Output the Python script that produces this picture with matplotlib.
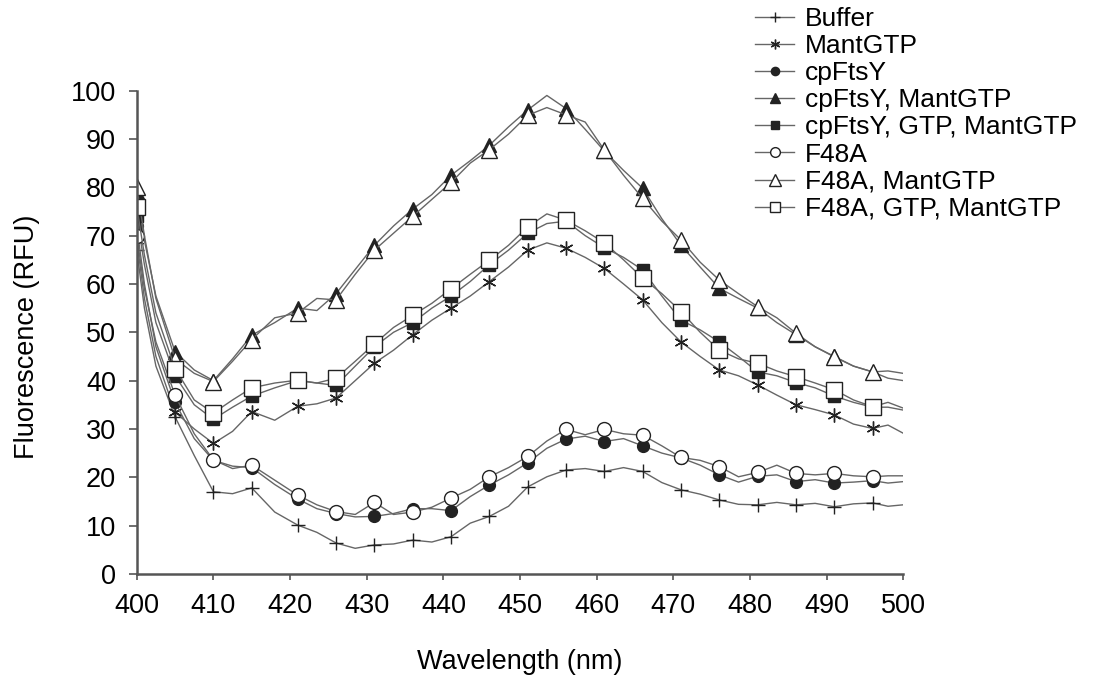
import numpy as np
import matplotlib
matplotlib.use('Agg')
import matplotlib.pyplot as plt

plt.rcParams['font.family'] = ['Liberation Sans', 'DejaVu Sans']

# wavelength grid (nm) and indices that carry a marker
wavelength = [400, 401, 402.5, 405, 407.5, 410, 412.5, 415, 418, 421, 423.5, 426, 428.5, 431,
              433.5, 436, 438.5, 441, 443.5, 446, 448.5, 451, 453.5, 456, 458.5, 461, 463.5,
              466, 468.5, 471, 473.5, 476, 478.5, 481, 483.5, 486, 488.5, 491, 493.5, 496,
              498, 500]
marker_idx = [0, 3, 5, 7, 9, 11, 13, 15, 17, 19, 21, 23, 25, 27, 29, 31, 33, 35, 37, 39]

buffer = [67, 55, 43, 32.5, 24.5, 17, 16.6, 17.8, 12.8, 10.1, 8.6, 6.4, 5.3, 6, 6.2, 7, 6.6,
          7.7, 10.5, 11.9, 14, 18, 20.1, 21.5, 21.8, 21.2, 22, 21.2, 18.9, 17.4, 16.5, 15.3,
          14.4, 14.3, 14.8, 14.3, 14.6, 13.9, 14.5, 14.7, 14.0, 14.3]
mant_gtp = [69, 57, 45, 33.5, 30, 27, 29.5, 33.6, 31.8, 34.7, 35.2, 36.4, 40, 43.6, 46.3, 49.5,
            52.5, 55, 57.5, 60.5, 63.5, 67, 68.5, 67.4, 65.5, 63.2, 60, 56.7, 52, 48, 45, 42.2,
            41, 39.1, 37, 35, 34, 32.9, 31, 30.1, 30.8, 29.1]
cpftsy = [72, 60, 47, 35.5, 28, 23.5, 22.3, 22, 18.5, 15.5, 13.5, 12.5, 11.8, 11.9, 12.5, 13.5,
          13.5, 13.1, 16, 18.4, 20.5, 23, 26, 27.9, 28.5, 27.4, 28, 26.5, 25, 24, 22.5, 20.5,
          19, 20.2, 20.5, 19.1, 19.5, 18.8, 19, 19.3, 18.8, 19.1]
cpftsy_mant = [79, 69, 57.5, 46, 42.2, 40, 44.5, 49.4, 52, 55, 54.5, 58, 63, 68, 72, 75.5, 78.5,
               82.5, 85.5, 88.7, 92.5, 96, 99, 96.3, 92, 87.5, 83.5, 79.8, 73.5, 68, 63.5, 59.1,
               57, 55, 52, 49.5, 47, 45, 43, 41.8, 40.5, 40]
cpftsy_gtp_mant = [74, 64, 52, 41, 35, 32, 34.5, 36.8, 38.5, 40, 39.5, 39, 43, 47, 50, 52, 55,
                   57.5, 60.5, 64, 67, 70.5, 72.5, 73, 70, 67.5, 65.5, 62.9, 57.5, 52.5, 50.5,
                   48, 45, 41.8, 41, 39.6, 38.5, 36.8, 35.5, 34.5, 34.5, 33.9]
f48a = [70, 59, 48, 37, 29, 23.6, 21.8, 22.5, 19.4, 16.3, 14.3, 12.9, 12.3, 14.8, 12.3, 12.8,
        13.8, 15.7, 17.5, 20.1, 22, 24.3, 27.5, 29.9, 28.8, 29.9, 29, 28.7, 26.5, 24.1, 23.5,
        22.2, 20.1, 21, 22.5, 20.8, 20.5, 20.8, 20.3, 20.1, 20.3, 20.3]
f48a_mant = [80, 70, 57, 44.5, 41.5, 39.8, 44, 48.5, 53, 54, 57, 56.7, 62, 67, 70.5, 74, 77.5,
             81, 85, 87.8, 91, 94.9, 96.5, 95, 93.5, 87.7, 82.5, 77.7, 73, 69.1, 64.5, 60.8,
             58, 55.3, 53, 49.8, 47, 44.9, 43, 41.8, 42, 41.5]
f48a_gtp_mant = [76, 66, 54, 42.5, 36, 33.3, 36, 38.5, 39.5, 40.1, 39.5, 40.5, 44, 47.6, 51,
                 53.5, 56, 59, 62, 64.9, 68, 71.8, 74.5, 73.2, 71, 68.5, 65, 61.2, 58, 54.3, 50,
                 46.3, 44.5, 43.6, 42, 40.8, 39.5, 38.1, 36, 34.6, 35.5, 34.3]

series = [
    ('Buffer', buffer, '+', 'none', 10),
    ('MantGTP', mant_gtp, (6, 2, 0), 'none', 10),
    ('cpFtsY', cpftsy, 'o', '#222222', 8.5),
    ('cpFtsY, MantGTP', cpftsy_mant, '^', '#222222', 10),
    ('cpFtsY, GTP, MantGTP', cpftsy_gtp_mant, 's', '#222222', 9),
    ('F48A', f48a, 'o', 'white', 10),
    ('F48A, MantGTP', f48a_mant, '^', 'white', 12),
    ('F48A, GTP, MantGTP', f48a_gtp_mant, 's', 'white', 11),
]

fig = plt.figure(figsize=(10.94, 6.80), dpi=100)
ax = fig.add_axes([0.125, 0.156, 0.7007, 0.7107])

for label, vals, mk, face, ms in series:
    ax.plot(wavelength, vals, color='#666666', linewidth=1.0, marker=mk,
            markevery=marker_idx, markersize=ms, markerfacecolor=face,
            markeredgecolor='#222222', markeredgewidth=1.0, label=label)

ax.set_xlim(400, 500)
ax.set_ylim(0, 100)
ax.set_xticks(np.arange(400, 501, 10))
ax.set_yticks(np.arange(0, 101, 10))
ax.tick_params(direction='out', width=1.2, color='#555555', labelsize=19.5)
ax.tick_params(axis='x', length=4.5, pad=9)
ax.tick_params(axis='y', length=6, pad=9)
for s in ['top', 'right']:
    ax.spines[s].set_visible(False)
for s in ['left', 'bottom']:
    ax.spines[s].set_color('#555555')
    ax.spines[s].set_linewidth(1.8)

ax.set_xlabel('Wavelength (nm)', fontsize=19.5)
ax.set_ylabel('Fluorescence (RFU)', fontsize=19.5)
ax.xaxis.set_label_coords(0.5, -0.155)
ax.yaxis.set_label_coords(-0.126, 0.49)

fig.legend(loc='upper left', bbox_to_anchor=(0.6804, 1.0056), frameon=False,
           fontsize=19, numpoints=1, handlelength=1.5, handletextpad=0.38,
           labelspacing=0.12, borderaxespad=0, borderpad=0.4, markerscale=0.7)

fig.savefig('out.png', dpi=100)
